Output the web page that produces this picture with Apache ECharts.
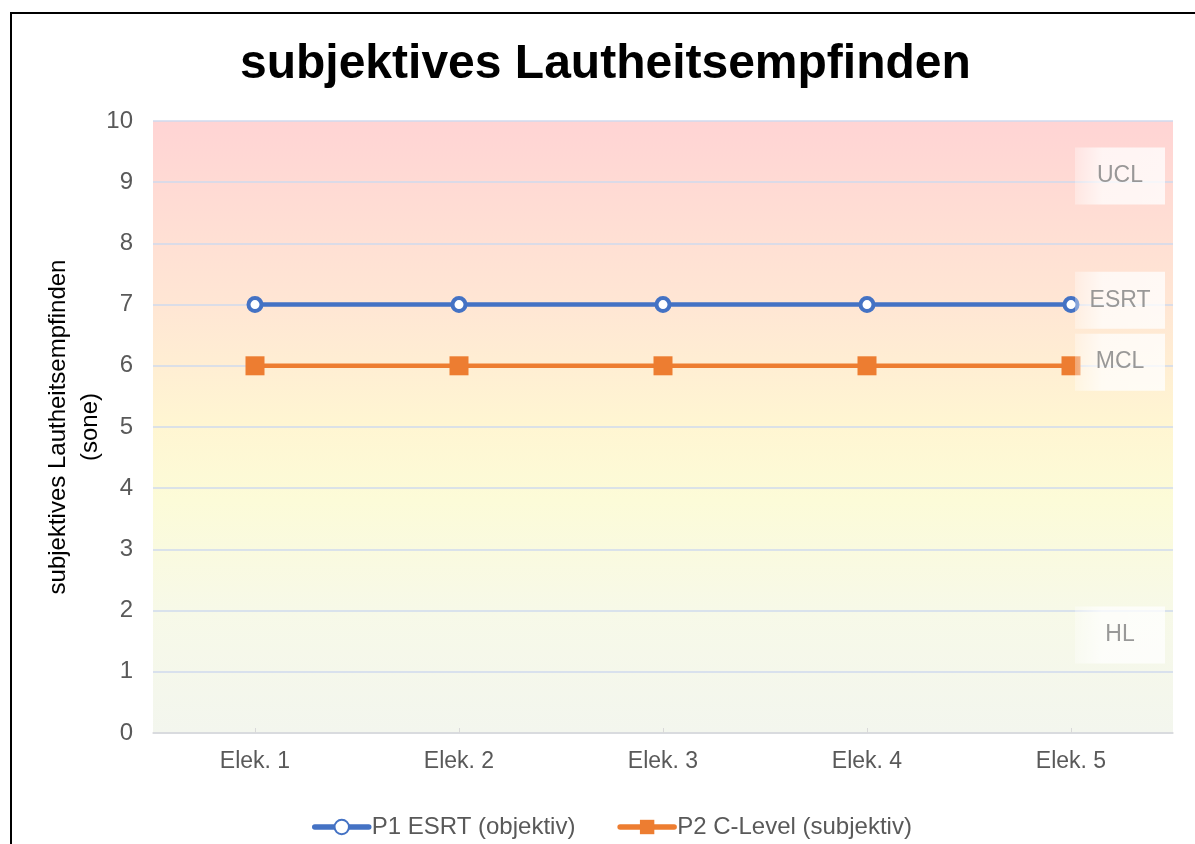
<!DOCTYPE html>
<html>
<head>
<meta charset="utf-8">
<script src="https://cdn.jsdelivr.net/npm/echarts@6/dist/echarts.min.js"></script>
<style>
  html, body { margin: 0; padding: 0; background: #fff; overflow: hidden; }
  #frame { position: absolute; left: 10px; top: 12px; width: 1400px; height: 1000px;
           border-left: 2px solid #000; border-top: 2px solid #000; box-sizing: border-box; }
  #chart { position: absolute; left: 0; top: 0; width: 1195px; height: 844px; }
</style>
</head>
<body>
<div id="frame"></div>
<div id="chart"></div>
<script>
// Electrodes along the x axis
const categories = ['Elek. 1', 'Elek. 2', 'Elek. 3', 'Elek. 4', 'Elek. 5'];
// Loudness per electrode (sone)
const esrtValues = [7, 7, 7, 7, 7];
const cLevelValues = [6, 6, 6, 6, 6];
// Loudness zone markers shown at the right edge
const zoneNames = ['UCL', 'ESRT', 'MCL', 'HL'];
const zoneLevels = [9.1, 7.07, 6.06, 1.6];
const yTicks = [0, 1, 2, 3, 4, 5, 6, 7, 8, 9, 10];

const chart = echarts.init(document.getElementById('chart'), null, { renderer: 'canvas' });
const font = '"Liberation Sans", Arial, sans-serif';

const plotBg = new echarts.graphic.LinearGradient(0, 0, 0, 1, [
  { offset: 0.0, color: '#FFD4D4' },
  { offset: 0.3, color: '#FFE6D4' },
  { offset: 0.5, color: '#FFF6D2' },
  { offset: 0.62, color: '#FCFBD8' },
  { offset: 0.8, color: '#F7F9E8' },
  { offset: 1.0, color: '#F3F6EE' }
]);

const boxBg = new echarts.graphic.LinearGradient(0, 0, 1, 0, [
  { offset: 0, color: 'rgba(255,255,255,0.4)' },
  { offset: 0.3, color: 'rgba(255,255,255,0.92)' },
  { offset: 1, color: 'rgba(255,255,255,0.96)' }
]);

chart.setOption({
  animation: false,
  backgroundColor: 'transparent',
  title: {
    text: 'subjektives Lautheitsempfinden',
    left: 235,
    top: 36,
    textStyle: { fontFamily: font, fontSize: 48, fontWeight: 'bold', color: '#000' }
  },
  grid: {
    left: 153, right: 22, top: 121, bottom: 111,
    show: true, borderWidth: 0, backgroundColor: plotBg
  },
  legend: {
    bottom: 0,
    left: 307,
    itemWidth: 54,
    itemHeight: 18,
    itemGap: 42,
    lineStyle: { width: 5.5, cap: 'round' },
    textStyle: { fontFamily: font, fontSize: 24, color: '#595959', padding: [0, 0, 0, -2] },
    data: ['P1 ESRT (objektiv)', 'P2 C-Level (subjektiv)']
  },
  xAxis: {
    type: 'category',
    data: categories,
    boundaryGap: true,
    axisLine: { lineStyle: { color: '#D9D9D9', width: 1.5 } },
    axisTick: { show: true, alignWithLabel: true, inside: true, length: 5, lineStyle: { color: '#D9D9D9' } },
    axisLabel: { fontFamily: font, fontSize: 23, color: '#595959', margin: 17 }
  },
  yAxis: {
    type: 'value',
    min: yTicks[0],
    max: yTicks[yTicks.length - 1],
    interval: 1,
    name: 'subjektives Lautheitsempfinden\n(sone)',
    nameLocation: 'middle',
    nameGap: 47,
    nameMoveOverlap: false,
    nameRotate: 90,
    nameTextStyle: { fontFamily: font, fontSize: 24, color: '#000', lineHeight: 32 },
    axisLine: { show: false },
    axisTick: { show: false },
    axisLabel: { fontFamily: font, fontSize: 24, color: '#595959', margin: 20 },
    splitLine: { lineStyle: { color: '#CFDAEE', width: 1.5 } }
  },
  series: [
    {
      name: 'P1 ESRT (objektiv)',
      type: 'line',
      data: esrtValues,
      symbol: 'circle',
      symbolSize: 13,
      lineStyle: { color: '#4472C4', width: 4.5 },
      itemStyle: { color: '#FFFFFF', borderColor: '#4472C4', borderWidth: 4 },
      z: 3
    },
    {
      name: 'P2 C-Level (subjektiv)',
      type: 'line',
      data: cLevelValues,
      symbol: 'rect',
      symbolSize: 19,
      lineStyle: { color: '#ED7D31', width: 4.5 },
      itemStyle: { color: '#ED7D31' },
      z: 3
    },
    {
      name: 'zones',
      type: 'scatter',
      data: zoneLevels.map((v, i) => ({ value: [categories[categories.length - 1], v], name: zoneNames[i] })),
      symbolSize: 0,
      silent: true,
      z: 5,
      label: {
        show: true,
        position: 'inside',
        offset: [49, 0],
        formatter: p => p.name,
        fontFamily: font,
        fontSize: 23,
        color: '#7F7F7F',
        width: 90,
        height: 49,
        lineHeight: 40,
        padding: [0, 0, 8, 0],
        align: 'center',
        verticalAlign: 'middle',
        backgroundColor: boxBg
      }
    }
  ]
});
</script>
</body>
</html>
